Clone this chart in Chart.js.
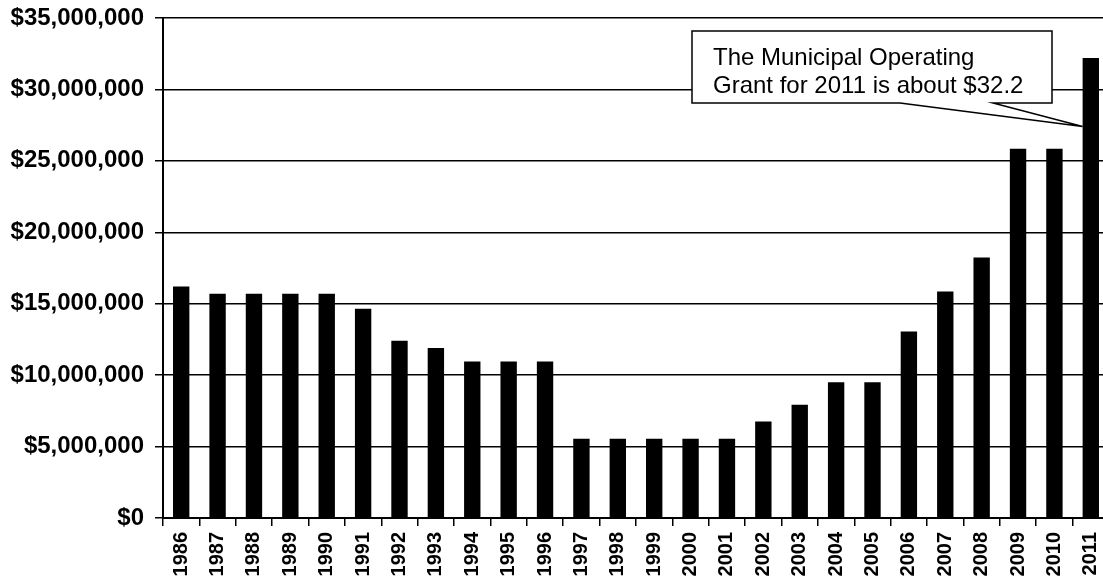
<!DOCTYPE html>
<html>
<head>
<meta charset="utf-8">
<script src="https://cdn.jsdelivr.net/npm/chart.js@4/dist/chart.umd.min.js"></script>
<style>
html,body{margin:0;padding:0;background:#fff;overflow:hidden;}
#wrap{width:1103px;height:576px;overflow:hidden;}
</style>
</head>
<body>
<div id="wrap"><canvas id="c" width="1109" height="576"></canvas></div>
<script>
const years = ["1986","1987","1988","1989","1990","1991","1992","1993","1994","1995","1996","1997","1998","1999","2000","2001","2002","2003","2004","2005","2006","2007","2008","2009","2010","2011"];
const grant = [16200000,15700000,15700000,15700000,15700000,14650000,12400000,11900000,10950000,10950000,10950000,5550000,5550000,5550000,5550000,5550000,6750000,7920000,9500000,9500000,13050000,15850000,18230000,25850000,25850000,32200000];
const yTicks = [0,5000000,10000000,15000000,20000000,25000000,30000000,35000000];
const calloutLines = ["The Municipal Operating","Grant for 2011 is about $32.2"];
const calloutTipValue = 27400000;

const FONT = "'Liberation Sans', Arial, sans-serif";

const callout = {
  id: 'callout',
  afterDraw(chart) {
    const ctx = chart.ctx;
    const ys = chart.scales.y;
    const last = years.length - 1;
    const meta = chart.getDatasetMeta(0).data[last];
    const tipX = meta.x - meta.width / 2;
    const tipY = ys.getPixelForValue(calloutTipValue);
    const L = 692, T = 31, R = 1052, B = 103;
    ctx.save();
    ctx.beginPath();
    ctx.moveTo(L, T);
    ctx.lineTo(R, T);
    ctx.lineTo(R, B);
    ctx.lineTo(993, B);
    ctx.lineTo(tipX, tipY);
    ctx.lineTo(900, B);
    ctx.lineTo(L, B);
    ctx.closePath();
    ctx.fillStyle = '#fff';
    ctx.fill();
    ctx.lineWidth = 1.5;
    ctx.strokeStyle = '#000';
    ctx.stroke();
    ctx.fillStyle = '#000';
    ctx.font = "24px " + FONT;
    ctx.textAlign = 'left';
    ctx.textBaseline = 'alphabetic';
    ctx.fillText(calloutLines[0], 713, 65);
    ctx.fillText(calloutLines[1], 713, 93);
    ctx.restore();
  }
};

new Chart(document.getElementById('c'), {
  type: 'bar',
  data: {
    labels: years,
    datasets: [{
      data: grant,
      backgroundColor: '#000',
      borderWidth: 0,
      barPercentage: 0.45,
      categoryPercentage: 1.0
    }]
  },
  options: {
    responsive: false,
    animation: false,
    layout: { padding: { top: 18, right: 0, left: 0, bottom: 0 } },
    plugins: { legend: { display: false }, tooltip: { enabled: false } },
    scales: {
      x: {
        offset: true,
        grid: { display: true, drawOnChartArea: false, drawTicks: true, tickLength: 8, color: '#000', lineWidth: 1.5, offset: true },
        border: { display: true, color: '#000', width: 2 },
        ticks: {
          color: '#000',
          font: { family: FONT, size: 20, weight: 'bold' },
          maxRotation: 90, minRotation: 90, autoSkip: false, padding: 6
        },
        afterFit(s) { s.height = 58; s.paddingLeft = 0; s.paddingRight = 0; }
      },
      y: {
        min: 0, max: 35000000,
        afterBuildTicks(s) { s.ticks = yTicks.map(v => ({ value: v })); },
        grid: { color: '#000', lineWidth: 1.5, drawTicks: true, tickLength: 8 },
        border: { display: true, color: '#000', width: 2 },
        ticks: {
          color: '#000',
          font: { family: FONT, size: 24, weight: 'bold' },
          padding: 11,
          callback: v => '$' + Number(v).toLocaleString('en-US')
        },
        afterFit(s) { s.width = 163; s.paddingTop = 0; s.paddingBottom = 0; }
      }
    }
  },
  plugins: [callout]
});
</script>
</body>
</html>
